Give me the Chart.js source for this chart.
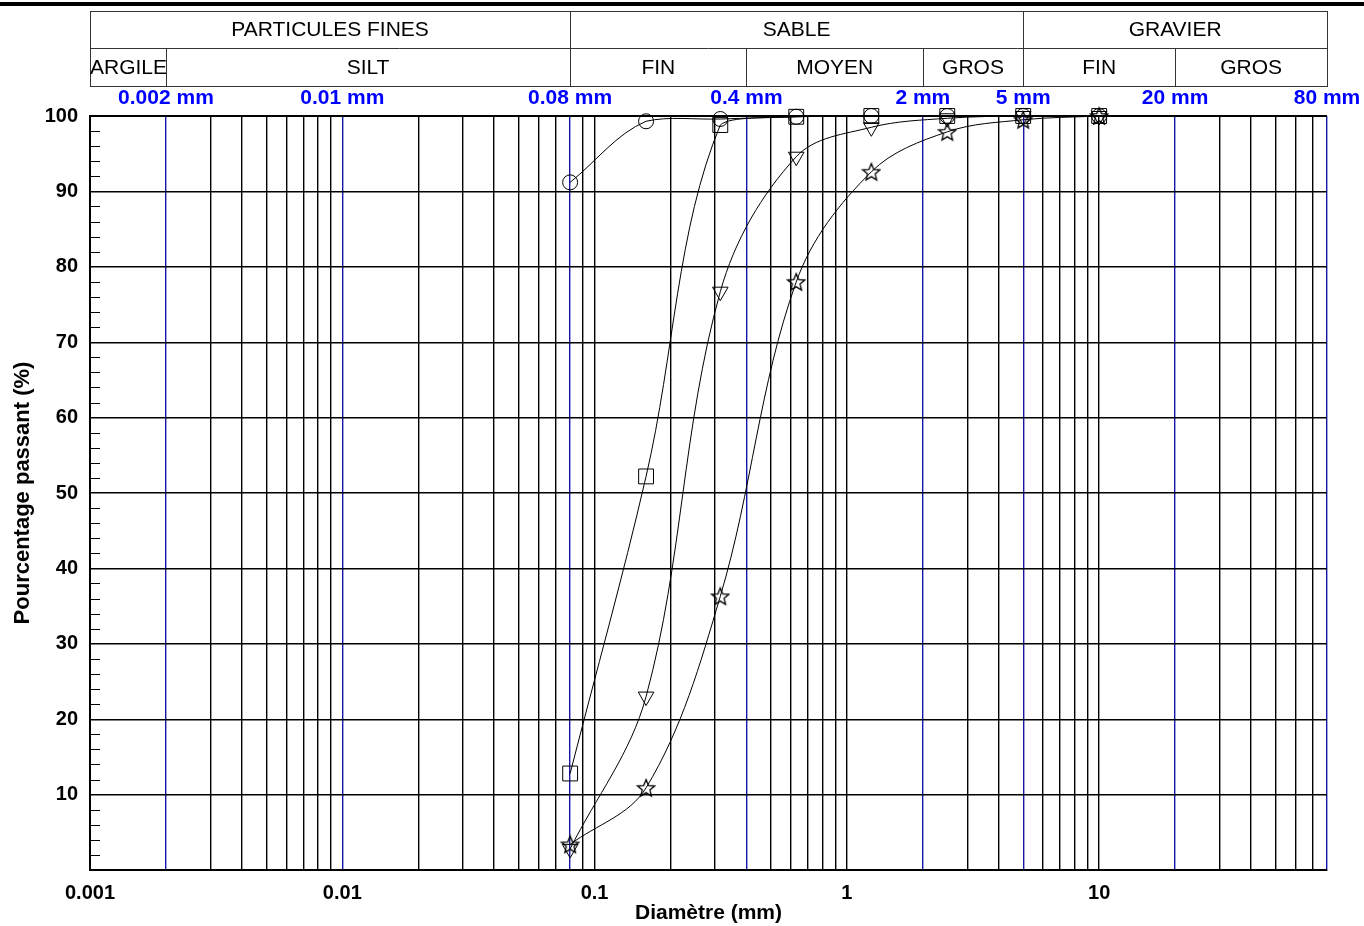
<!DOCTYPE html>
<html>
<head>
<meta charset="utf-8">
<script src="https://cdn.jsdelivr.net/npm/chart.js@4.4.1/dist/chart.umd.min.js"></script>
<style>
  html, body { margin: 0; padding: 0; background: #fff; }
  canvas { display: block; }
</style>
</head>
<body>
<canvas id="chart" width="1364" height="926"></canvas>
<script>
// sieve sizes (mm) and percentage passing for each sample
const sieves = [0.08, 0.16, 0.315, 0.63, 1.25, 2.5, 5, 10];
const circleSample = [91.2, 99.3, 99.6, 99.9, 100, 100, 100, 100];
const squareSample = [12.8, 52.2, 98.8, 99.9, 100, 100, 100, 100];
const triangleSample = [2.8, 23.0, 76.7, 94.6, 98.5, 99.7, 100, 100];
const starSample = [3.4, 10.9, 36.3, 78.0, 92.6, 97.9, 99.5, 100];

// class boundaries (blue lines) and header classes
const boundaries = [0.002, 0.01, 0.08, 0.4, 2, 5, 20, 80];
const boundaryLabels = ['0.002 mm', '0.01 mm', '0.08 mm', '0.4 mm', '2 mm', '5 mm', '20 mm', '80 mm'];
const mainClasses = [['PARTICULES FINES', 0.001, 0.08], ['SABLE', 0.08, 5], ['GRAVIER', 5, 80]];
const subClasses = [
    ['ARGILE', 0.001, 0.002], ['SILT', 0.002, 0.08], ['FIN', 0.08, 0.4],
    ['MOYEN', 0.4, 2], ['GROS', 2, 5], ['FIN', 5, 20], ['GROS', 20, 80]
];
const decadeLabels = [0.001, 0.01, 0.1, 1, 10];

const FONT = "'Liberation Sans', Arial, sans-serif";

function toPoints(values) {
    return sieves.map((s, i) => ({ x: s, y: values[i] }));
}

function isNear(v, list) {
    return list.some(b => Math.abs(v - b) / b < 1e-6);
}

// five-pointed star outline used as a marker
function makeStar(size) {
    const c = document.createElement('canvas');
    c.width = size;
    c.height = size;
    const g = c.getContext('2d');
    const cx = size / 2, cy = size / 2 + 0.8;
    const outer = size / 2 - 1, inner = outer * 0.45;
    g.beginPath();
    for (let i = 0; i < 10; i++) {
        const r = i % 2 === 0 ? outer : inner;
        const a = -Math.PI / 2 + i * Math.PI / 5;
        const px = cx + r * Math.cos(a), py = cy + r * Math.sin(a);
        if (i === 0) g.moveTo(px, py); else g.lineTo(px, py);
    }
    g.closePath();
    g.strokeStyle = '#000';
    g.lineWidth = 1.3;
    g.stroke();
    return c;
}

const headerPlugin = {
    id: 'header',
    beforeDatasetsDraw(chart) {
        const { ctx, chartArea } = chart;
        const ys = chart.scales.y;
        // small minor ticks every 2 %
        ctx.save();
        ctx.strokeStyle = '#000';
        ctx.lineWidth = 1;
        for (let v = 2; v < 100; v += 2) {
            if (v % 10 === 0) continue;
            const py = Math.round(ys.getPixelForValue(v)) + 0.5;
            ctx.beginPath();
            ctx.moveTo(chartArea.left, py);
            ctx.lineTo(chartArea.left + 10, py);
            ctx.stroke();
        }
        ctx.restore();
    },
    afterDraw(chart) {
        const { ctx, chartArea } = chart;
        const xs = chart.scales.x;
        const px = v => xs.getPixelForValue(v);
        ctx.save();

        // thick rule at the very top
        ctx.fillStyle = '#000';
        ctx.fillRect(0, 2, chart.width, 4);

        // header table
        const top = 11, mid = 48, bottom = 86;
        ctx.strokeStyle = '#333';
        ctx.lineWidth = 1;
        ctx.strokeRect(chartArea.left + 0.5, top + 0.5, chartArea.right - chartArea.left, bottom - top);
        ctx.beginPath();
        ctx.moveTo(chartArea.left, mid + 0.5);
        ctx.lineTo(chartArea.right, mid + 0.5);
        ctx.stroke();

        ctx.fillStyle = '#000';
        ctx.font = '21px ' + FONT;
        ctx.textAlign = 'center';
        ctx.textBaseline = 'middle';
        mainClasses.forEach(([name, a, b]) => {
            const x0 = px(a), x1 = px(b);
            if (a !== 0.001) {
                ctx.beginPath();
                ctx.moveTo(Math.round(x0) + 0.5, top);
                ctx.lineTo(Math.round(x0) + 0.5, mid);
                ctx.stroke();
            }
            ctx.fillText(name, (x0 + x1) / 2, (top + mid) / 2 + 1);
        });
        subClasses.forEach(([name, a, b]) => {
            const x0 = px(a), x1 = px(b);
            if (a !== 0.001) {
                ctx.beginPath();
                ctx.moveTo(Math.round(x0) + 0.5, mid);
                ctx.lineTo(Math.round(x0) + 0.5, bottom);
                ctx.stroke();
            }
            const w = ctx.measureText(name).width;
            const cx = Math.max((x0 + x1) / 2, x0 + w / 2);
            ctx.fillText(name, cx, (mid + bottom) / 2 + 1);
        });

        // blue boundary labels
        ctx.fillStyle = '#0000FF';
        ctx.font = 'bold 21px ' + FONT;
        boundaries.forEach((b, i) => {
            ctx.fillText(boundaryLabels[i], px(b), 98);
        });

        // frame on top of the plot
        ctx.strokeStyle = '#000';
        ctx.lineWidth = 2;
        ctx.beginPath();
        ctx.moveTo(chartArea.left, chartArea.top);
        ctx.lineTo(chartArea.right, chartArea.top);
        ctx.stroke();
        ctx.restore();
    }
};

const markerBase = {
    borderColor: '#000',
    borderWidth: 1,
    pointBorderColor: '#000',
    pointBackgroundColor: 'rgba(0,0,0,0)',
    pointBorderWidth: 1,
    fill: false,
    tension: 0.35,
    clip: false
};

new Chart(document.getElementById('chart'), {
    type: 'line',
    data: {
        datasets: [
            { ...markerBase, label: 'cercle', data: toPoints(circleSample), pointStyle: 'circle', pointRadius: 7.5 },
            { ...markerBase, label: 'carré', data: toPoints(squareSample), pointStyle: 'rect', pointRadius: 10.5 },
            { ...markerBase, label: 'triangle', data: toPoints(triangleSample), pointStyle: 'triangle', pointRotation: 180, pointRadius: 9 },
            { ...markerBase, label: 'étoile', data: toPoints(starSample), pointStyle: makeStar(20), pointRadius: 10 }
        ]
    },
    options: {
        responsive: false,
        animation: false,
        events: [],
        layout: { padding: { top: 116, right: 37, left: 0, bottom: 0 } },
        plugins: {
            legend: { display: false },
            tooltip: { enabled: false }
        },
        scales: {
            x: {
                type: 'logarithmic',
                min: 0.001,
                max: 80,
                afterBuildTicks(scale) {
                    const ticks = [];
                    for (let e = -3; e <= 1; e++) {
                        for (let m = 1; m <= 9; m++) {
                            const v = m * Math.pow(10, e);
                            if (v <= 80.0001) ticks.push({ value: v });
                        }
                    }
                    scale.ticks = ticks;
                },
                afterFit(scale) { scale.height = 56; },
                ticks: {
                    autoSkip: false,
                    maxRotation: 0,
                    padding: 11,
                    color: '#000',
                    font: { family: FONT, size: 20, weight: 'bold' },
                    callback: v => isNear(v, decadeLabels) ? String(+v.toPrecision(3)) : ''
                },
                grid: {
                    drawTicks: false,
                    lineWidth: 1.4,
                    color: c => (c.tick && isNear(c.tick.value, boundaries)) ? '#1515A8' : '#000'
                },
                border: { display: true, color: '#000', width: 2 },
                title: {
                    display: true,
                    text: 'Diamètre (mm)',
                    color: '#000',
                    font: { family: FONT, size: 21, weight: 'bold' },
                    padding: { top: 0, bottom: 0 }
                }
            },
            y: {
                min: 0,
                max: 100,
                afterFit(scale) { scale.width = 90; },
                ticks: {
                    stepSize: 10,
                    padding: 12,
                    color: '#000',
                    font: { family: FONT, size: 20, weight: 'bold' },
                    callback: v => v === 0 ? '' : String(v)
                },
                grid: {
                    drawTicks: false,
                    color: '#000',
                    lineWidth: 1.4
                },
                border: { display: true, color: '#000', width: 2 },
                title: {
                    display: true,
                    text: 'Pourcentage passant (%)',
                    color: '#000',
                    font: { family: FONT, size: 22, weight: 'bold' },
                    padding: { top: 10, bottom: 0 }
                }
            }
        }
    },
    plugins: [headerPlugin]
});
</script>
</body>
</html>
